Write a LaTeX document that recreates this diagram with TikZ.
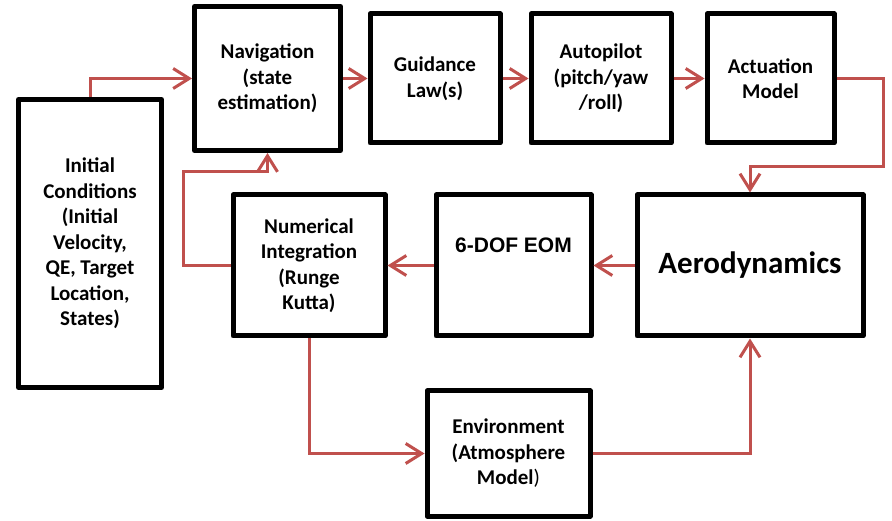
\documentclass[tikz,border=0pt]{standalone}
\usepackage{fontspec}
\setmainfont{Carlito}
\newfontfamily\arialfont{Liberation Sans}
\usetikzlibrary{arrows.meta}
\definecolor{linkred}{RGB}{192,80,77}
\begin{document}
\begin{tikzpicture}[x=1pt,y=-1pt,
  block/.style={draw=black, line width=5pt, line join=round, fill=white,
    align=center, inner sep=0pt,
    font=\fontsize{21}{25.5}\selectfont\bfseries},
  link/.style={draw=linkred, line width=3pt,
    -{Straight Barb[length=16pt,width=20pt]}}]
  % canvas
  \fill[white] (0,0) rectangle (892,521);
  \useasboundingbox (0,0) rectangle (892,521);

  % blocks
  \node[block, minimum width=143pt, minimum height=288pt] (ic) at (90,243.5)
    {Initial\\Conditions\\(Initial\\Velocity,\\QE, Target\\Location,\\States)};
  \node[block, minimum width=146pt, minimum height=144pt] (nav) at (267.5,78.5)
    {Navigation\\(state\\estimation)};
  \node[block, minimum width=130pt, minimum height=129pt] (guid) at (435,78.5)
    {Guidance\\Law(s)};
  \node[block, minimum width=140pt, minimum height=129pt] (auto) at (601,78.5)
    {Autopilot\\(pitch/yaw\\/roll)};
  \node[block, minimum width=127pt, minimum height=129pt] (act) at (770.5,78.5)
    {Actuation\\Model};
  \node[block, minimum width=226pt, minimum height=141pt,
    font=\fontsize{31}{36}\selectfont\bfseries] (aero) at (750,265.5)
    {Aerodynamics};
  \node[block, minimum width=155pt, minimum height=141pt] (eom) at (513.5,265.5) {};
  \node[font=\arialfont\bfseries\fontsize{21}{25}\selectfont, inner sep=0pt]
    (eomlabel) at (513.5,245) {6-DOF EOM};
  \node[block, minimum width=152pt, minimum height=141pt] (ni) at (309,265.5)
    {Numerical\\Integration\\(Runge\\Kutta)};
  \node[block, minimum width=163pt, minimum height=125pt] (env) at (508.5,453.5)
    {Environment\\(Atmosphere\\Model{\mdseries)}};

  % routing points
  \coordinate (actturn) at (883,167);
  \coordinate (navturn) at (183,172);

  % signal flow
  \draw[link] (ic.north) |- (nav.west);
  \draw[link] (nav.east) -- (guid.west);
  \draw[link] (guid.east) -- (auto.west);
  \draw[link] (auto.east) -- (act.west);
  \draw[link] (act.east) -| (actturn) -| (aero.north);
  \draw[link] (aero.west) -- (eom.east);
  \draw[link] (eom.west) -- (ni.east);
  \draw[link] (ni.west) -| (navturn) -| (nav.south);
  \draw[link] (ni.south) |- (env.west);
  \draw[link] (env.east) -| (aero.south);
\end{tikzpicture}
\end{document}
